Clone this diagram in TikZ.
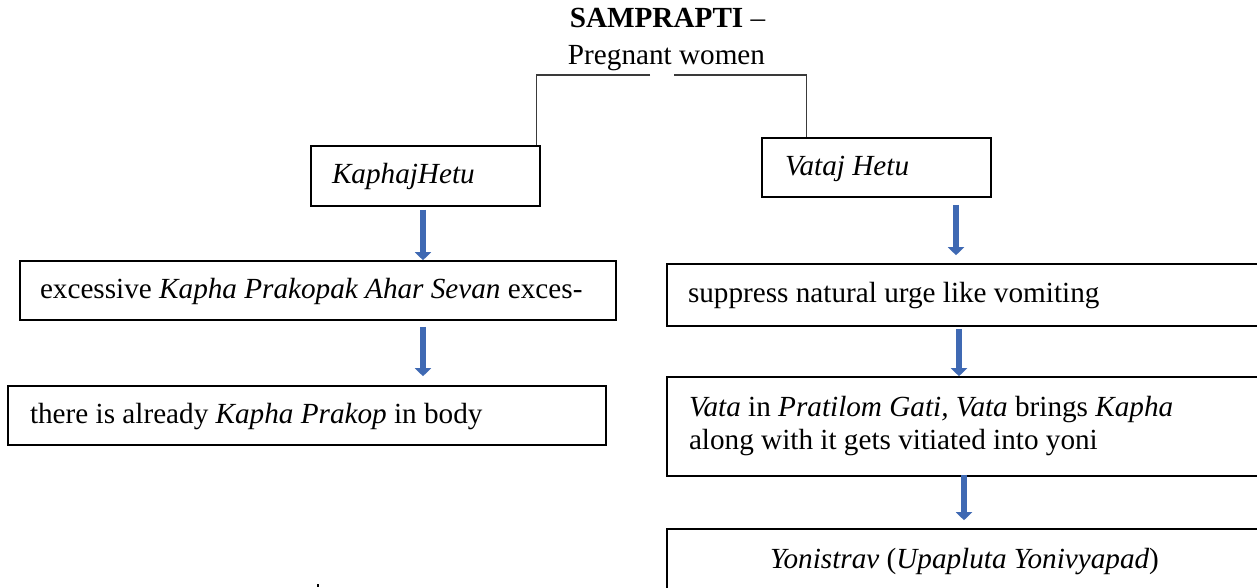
\documentclass[tikz,border=0pt]{standalone}
\usepackage{fontspec}
\setmainfont{Liberation Serif}
\usetikzlibrary{arrows.meta}
\definecolor{arrowblue}{HTML}{3F69B3}
\definecolor{linegray}{HTML}{3A3A3A}
\begin{document}
\begin{tikzpicture}[x=1pt,y=-1pt,
  every node/.style={font=\fontsize{29.2pt}{33pt}\selectfont},
  box/.style={draw=black, line width=1.6pt, rectangle, inner ysep=0pt, align=flush left},
  oneline/.style={text height=21pt, text depth=6pt},
  barrow/.style={draw=arrowblue, line width=6pt, -{Triangle[width=16pt,length=8pt]}},
  conn/.style={draw=linegray, line width=1.3pt}
]
\useasboundingbox (0,0) rectangle (1257,587);
\fill[white] (0,0) rectangle (1257,587);
\clip (0,0) rectangle (1257,587);

% title
\node[anchor=base, inner sep=0pt] (title) at (667.5,27) {\textbf{SAMPRAPTI} –};
\node[anchor=base, inner sep=0pt] (sub) at (666.5,64) {Pregnant women};

% left branch
\node[box, oneline, minimum width=229pt, minimum height=60pt, inner xsep=21pt, text width=187pt] (kh) at (425.5,176) {\itshape KaphajHetu};
\node[box, oneline, minimum width=596pt, minimum height=59pt, inner xsep=20pt, text width=556pt] (ex) at (318,290.5) {\mbox{excessive \textit{Kapha Prakopak Ahar Sevan} exces-}};
\node[box, oneline, minimum width=598pt, minimum height=59pt, inner xsep=22pt, text width=554pt] (tb) at (307,415.5) {\mbox{there is already \textit{Kapha Prakop} in body}};

% right branch
\node[box, oneline, minimum width=229pt, minimum height=59pt, inner xsep=23pt, text width=183pt] (vh) at (876.5,167.5) {\itshape Vataj Hetu};
\node[box, oneline, minimum width=595pt, minimum height=62pt, inner xsep=21pt, text width=553pt] (sup) at (964.5,295) {suppress natural urge like vomiting};
\node[box, minimum width=595pt, minimum height=99pt, inner xsep=22pt, text width=551pt] (vt) at (964.5,426.5) {\textit{Vata} in \textit{Pratilom Gati, Vata} brings \textit{Kapha}\\along with it gets vitiated into yoni};
\node[box, oneline, align=flush center, minimum width=595pt, minimum height=64pt, inner xsep=22pt, text width=551pt] (yo) at (964.5,561) {\textit{Yonistrav} (\textit{Upapluta Yonivyapad})};

% connectors from the title
\coordinate (j1) at (650,75);
\coordinate (j2) at (674,75);
\draw[conn] (j1) -| ([xshift=-4pt]kh.north east);
\draw[conn] (j2) -| ([xshift=45pt]vh.north west);

% block arrows
\draw[barrow] ([xshift=-2.5pt,yshift=-3pt]kh.south) -- ([xshift=-2.5pt]kh.south |- ex.north);
\draw[barrow] ([xshift=-2.5pt,yshift=-6pt]kh.south |- ex.south) -- ([xshift=-2.5pt,yshift=9pt]kh.south |- tb.north);
\draw[barrow] ([xshift=-8.5pt,yshift=-7pt]sup.north |- vh.south) -- ([xshift=-8.5pt,yshift=8pt]sup.north);
\draw[barrow] ([xshift=-5.5pt,yshift=-2pt]sup.south) -- ([xshift=-5.5pt]vt.north);
\draw[barrow] ([xshift=-0.5pt,yshift=2pt]vt.south) -- ([xshift=-0.5pt,yshift=8pt]yo.north);

% small stray mark at the bottom
\fill[black] (317.3,583.5) rectangle (319,587);
\end{tikzpicture}
\end{document}
